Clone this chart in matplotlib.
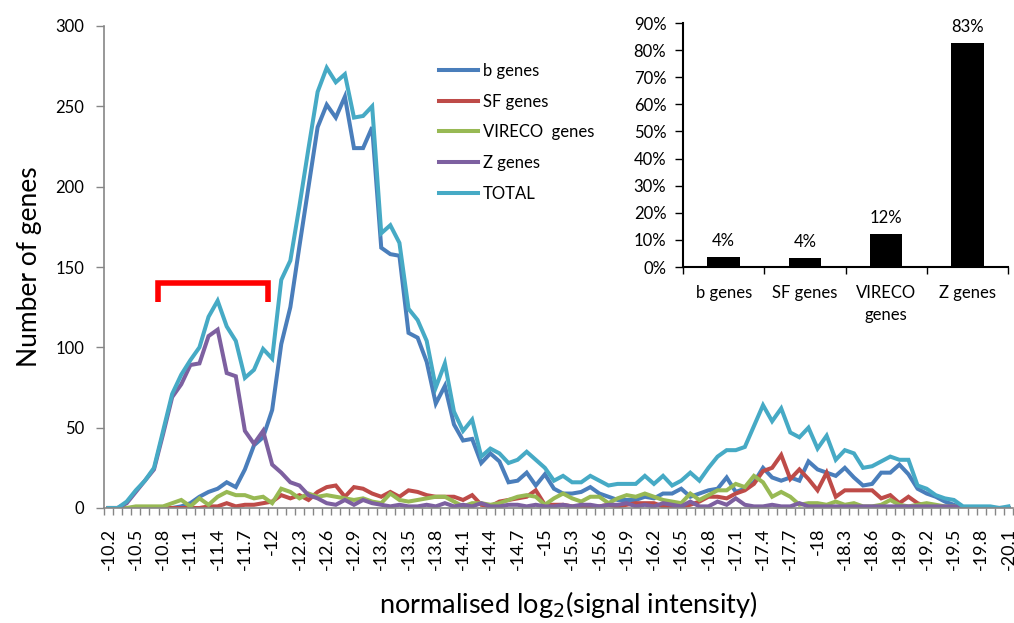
import matplotlib
matplotlib.use("Agg")
import matplotlib.pyplot as plt
import numpy as np

plt.rcParams['font.family'] = ['Lato', 'DejaVu Sans']

# ----------------- Data -----------------
# category axis: -10.2 ... -20.1 in steps of 0.1
categories = [f"{-10.2 - 0.1 * i:.1f}".replace(".0", "") for i in range(100)]

b_genes = [0, 0, 0, 0, 0, 0, 0, 0, 1, 3, 7, 10, 12, 16, 13, 24, 39, 44, 61, 102,
           125, 163, 200, 237, 251, 243, 256, 224, 224, 237, 162, 158, 157, 109, 106, 91, 65, 76, 52, 42,
           43, 28, 34, 29, 16, 17, 22, 14, 21, 12, 9, 9, 10, 13, 9, 7, 5, 5, 5, 7,
           6, 9, 9, 12, 7, 9, 11, 12, 19, 10, 12, 16, 25, 19, 17, 19, 17, 29, 24, 22,
           20, 25, 19, 14, 15, 22, 22, 27, 21, 12, 9, 7, 4, 2, 0, 0, 0, 0, 0, 0]

sf_genes = [0, 0, 0, 0, 0, 0, 0, 0, 0, 0, 0, 1, 1, 3, 1, 2, 2, 3, 4, 8,
            6, 8, 5, 10, 13, 14, 7, 13, 12, 9, 7, 10, 7, 11, 10, 8, 7, 7, 7, 5,
            8, 2, 1, 4, 5, 6, 7, 11, 2, 2, 2, 1, 1, 1, 1, 2, 1, 2, 3, 3,
            3, 1, 1, 1, 2, 4, 7, 7, 6, 9, 11, 15, 23, 25, 33, 18, 24, 18, 11, 22,
            7, 11, 11, 11, 11, 6, 8, 3, 7, 3, 1, 0, 0, 0, 0, 0, 0, 0, 0, 0]

vireco_genes = [0, 0, 0, 1, 1, 1, 1, 3, 5, 1, 6, 2, 7, 10, 8, 8, 6, 7, 3, 12,
                10, 6, 9, 7, 8, 7, 6, 5, 6, 4, 3, 9, 5, 4, 5, 6, 7, 7, 4, 1,
                3, 3, 2, 3, 5, 7, 8, 7, 2, 6, 9, 6, 4, 7, 7, 3, 6, 8, 7, 9,
                7, 5, 4, 3, 9, 5, 8, 11, 11, 15, 13, 20, 16, 7, 10, 7, 2, 3, 3, 2,
                4, 2, 3, 1, 1, 2, 5, 2, 1, 2, 3, 2, 1, 1, 0, 0, 0, 0, 0, 0]

z_genes = [0, 0, 3, 10, 17, 24, 46, 69, 77, 89, 90, 107, 111, 84, 82, 48, 40, 48, 27, 22,
           16, 14, 8, 6, 3, 2, 5, 2, 5, 3, 2, 1, 2, 1, 1, 2, 1, 3, 1, 2,
           1, 3, 1, 1, 2, 2, 1, 2, 1, 1, 2, 1, 2, 2, 1, 2, 2, 3, 1, 2,
           1, 3, 2, 1, 4, 1, 1, 4, 2, 6, 2, 1, 1, 2, 1, 1, 3, 1, 1, 1,
           1, 1, 1, 1, 1, 1, 1, 1, 1, 1, 1, 1, 1, 1, 0, 0, 0, 0, 0, 0]

total = [0, 0, 4, 11, 17, 25, 48, 71, 83, 92, 100, 119, 129, 113, 104, 81, 86, 99, 93, 142,
         154, 188, 224, 259, 274, 265, 270, 243, 244, 250, 171, 176, 165, 124, 117, 104, 75, 90, 60, 48,
         55, 32, 37, 34, 28, 30, 35, 30, 25, 17, 20, 16, 16, 20, 17, 14, 15, 15, 15, 20,
         15, 20, 14, 17, 22, 17, 25, 32, 36, 36, 38, 51, 64, 54, 62, 47, 44, 50, 37, 45,
         30, 36, 34, 25, 26, 29, 32, 30, 30, 14, 12, 8, 6, 5, 1, 1, 1, 1, 0, 1]

series = [("b genes", b_genes, "#4A7EBB"),
          ("SF genes", sf_genes, "#BE4B48"),
          ("VIRECO  genes", vireco_genes, "#98B954"),
          ("Z genes", z_genes, "#7D60A0"),
          ("TOTAL", total, "#46AAC5")]

# inset: share of genes in the bracketed peak
bar_labels = ["b genes", "SF genes", "VIRECO\ngenes", "Z genes"]
bar_values = [0.036, 0.033, 0.12, 0.825]
bar_texts = ["4%", "4%", "12%", "83%"]

# ----------------- Plotting -----------------
fig = plt.figure(figsize=(10.14, 6.23), dpi=100)
ax = fig.add_axes([104 / 1014, 1 - 508 / 623, 909 / 1014, 482 / 623])

x = np.arange(len(categories))
for name, vals, col in series:
    ax.plot(x, vals, color=col, lw=2.9, label=name, solid_joinstyle="miter")

ax.set_xlim(-0.5, len(categories) - 0.5)
ax.set_ylim(0, 300)
ax.set_yticks(range(0, 301, 50))

ax.set_xticks(x[::3])
ax.set_xticklabels(categories[::3], rotation=90, fontsize=13)
ax.set_xticks(np.arange(-0.5, len(categories), 1), minor=True)
ax.tick_params(axis="x", which="major", length=0, pad=14)
ax.tick_params(axis="x", which="minor", length=5, color="#868686", width=1)
ax.tick_params(axis="y", length=6, color="#868686", width=1, pad=8, labelsize=12)

for s in ["top", "right"]:
    ax.spines[s].set_visible(False)
for s in ["left", "bottom"]:
    ax.spines[s].set_color("#868686")
    ax.spines[s].set_linewidth(1.2)

ax.set_ylabel("Number of genes", fontsize=19, labelpad=10)
fig.text(568 / 1014, 1 - 605 / 623, "normalised log$_2$(signal intensity)",
         fontsize=19.5, ha="center", va="center")

leg = ax.legend(loc="upper left", bbox_to_anchor=(424 / 1014, 1 - 48 / 623),
                bbox_transform=fig.transFigure, frameon=False, fontsize=12,
                handlelength=2.35, handletextpad=0.3, labelspacing=0.88)

# red bracket over the Z-gene peak
ax.plot([5.4, 5.4, 17.55, 17.55], [128.5, 140, 140, 128.5], color="#FF0000",
        lw=4, solid_capstyle="butt", solid_joinstyle="miter")

# ----------------- Inset -----------------
ins = fig.add_axes([683 / 1014, 1 - 267 / 623, 325 / 1014, 244 / 623])
bx = np.arange(len(bar_labels))
ins.bar(bx, bar_values, width=0.4, color="black")
for xi, v, t in zip(bx, bar_values, bar_texts):
    ins.text(xi, v + 0.03, t, ha="center", va="bottom", fontsize=12)
ins.set_xlim(-0.5, len(bar_labels) - 0.5)
ins.set_ylim(0, 0.9)
ins.set_yticks(np.arange(0, 0.91, 0.1))
ins.set_yticklabels([f"{int(round(v * 100))}%" for v in np.arange(0, 0.91, 0.1)])
ins.set_xticks(bx)
ins.set_xticklabels(bar_labels, fontsize=12, linespacing=1.45)
ins.set_xticks(np.arange(-0.5, len(bar_labels), 1), minor=True)
ins.tick_params(axis="x", which="major", length=0, pad=13)
ins.tick_params(axis="x", which="minor", length=5, width=1)
ins.tick_params(axis="y", length=6, width=1, pad=6, labelsize=12)
for s in ["top", "right"]:
    ins.spines[s].set_visible(False)
for s in ["left", "bottom"]:
    ins.spines[s].set_linewidth(1.5)
ins.patch.set_alpha(0)

fig.savefig("out.png", dpi=100)
